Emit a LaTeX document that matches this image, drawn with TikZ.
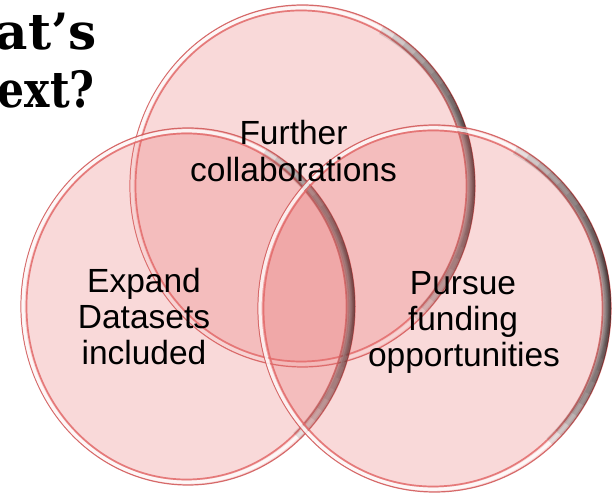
\documentclass[tikz,border=0pt]{standalone}
\usepackage{fontspec}
\setmainfont{Liberation Sans}
\newfontfamily\titlefont{DejaVu Serif}
\newfontfamily\titlefontc{DejaVu Serif}[FakeStretch=0.85]
\definecolor{vfill}{RGB}{232,111,111}
\definecolor{rimred}{RGB}{210,92,92}
\definecolor{innerred}{RGB}{226,106,106}
\definecolor{shade}{RGB}{35,22,22}
\tikzset{
  vennfill/.style={fill=vfill, fill opacity=0.26},
  outerline/.style={draw=rimred, line width=1.2pt, draw opacity=0.9},
  whiteband/.style={draw=white, line width=3.2pt, draw opacity=0.8},
  innerline/.style={draw=innerred, line width=1.7pt, draw opacity=0.85},
  shadowarc/.style={draw=shade, draw opacity=0.11},
  vlabel/.style={font=\fontsize{33.5}{36.5}\selectfont, text=black, inner sep=0pt, anchor=base},
  titletext/.style={font=\bfseries\fontsize{50}{58}\selectfont, text=black, inner sep=0pt, anchor=base east}
}
\newcommand\vennring[4]{%
  \pgfmathsetmacro\vcxa{#1-1}\pgfmathsetmacro\vrxa{#3-3}\pgfmathsetmacro\vrya{#4-2.8}%
  \pgfmathsetmacro\vcxb{#1-1.5}\pgfmathsetmacro\vrxb{#3-7}\pgfmathsetmacro\vryb{#4-5.5}%
  \fill[vennfill] (#1,#2) ellipse [x radius=#3, y radius=#4];
  \draw[outerline] (#1,#2) ellipse [x radius=#3, y radius=#4];
  \draw[whiteband] (\vcxa,#2) ellipse [x radius=\vrxa, y radius=\vrya];
  \draw[innerline] (\vcxb,#2) ellipse [x radius=\vrxb, y radius=\vryb];
  \begin{scope}
    \clip (#1,#2) ellipse [x radius=#3, y radius=#4];
    \foreach \k in {0,...,11}{
      \pgfmathsetmacro\vsa{-48+4*\k}
      \pgfmathsetmacro\vea{62-4.5*\k}
      \pgfmathsetmacro\vlw{18-1.4*\k}
      \draw[shadowarc, line width=\vlw pt] (#1,#2) ++(\vsa:#3 and #4)
        arc[start angle=\vsa, end angle=\vea, x radius=#3, y radius=#4];
    }
  \end{scope}
}
\begin{document}
\begin{tikzpicture}[x=1pt,y=1pt]
  \useasboundingbox (0,0) rectangle (612,494);
  \clip (0,0) rectangle (612,494);
  \fill[white] (0,0) rectangle (612,494);
  % title fragment
  \node[titletext, font=\titlefont\bfseries\fontsize{50}{58}\selectfont] (t1) at (97,444) {at’s};
  \node[titletext, font=\titlefontc\bfseries\fontsize{50}{58}\selectfont] (t2) at (95,386) {ext?};
  % circles: top, left, right
  \coordinate (ca) at (302.5,308);
  \coordinate (cb) at (188,187.5);
  \coordinate (cc) at (434.5,185.5);
  \vennring{302.5}{308}{172.5}{181}
  \vennring{188}{187.5}{167}{178.5}
  \vennring{434.5}{185.5}{176.5}{183.5}
  % labels
  \node[vlabel] (f1) at (293.5,349) {Further};
  \node[vlabel] (f2) at (293.5,312) {collaborations};
  \node[vlabel] (e1) at (144,201) {Expand};
  \node[vlabel] (e2) at (144,165) {Datasets};
  \node[vlabel] (e3) at (144,129) {included};
  \node[vlabel] (p1) at (463,199) {Pursue};
  \node[vlabel] (p2) at (463,163) {funding};
  \node[vlabel] (p3) at (464,127) {opportunities};
\end{tikzpicture}
\end{document}
